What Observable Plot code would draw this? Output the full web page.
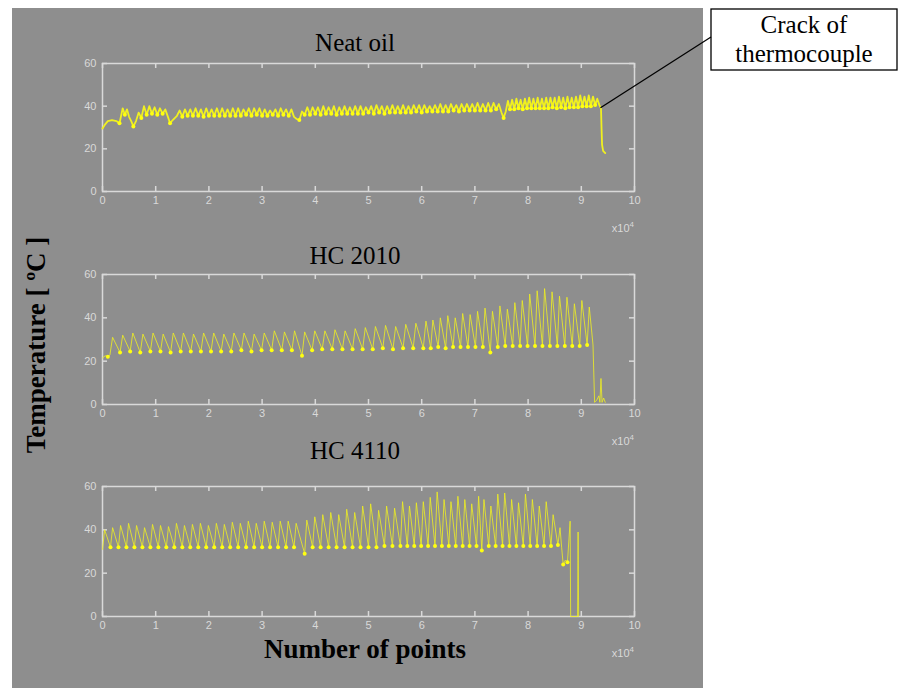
<!DOCTYPE html>
<html>
<head>
<meta charset="utf-8">
<script src="https://cdn.jsdelivr.net/npm/d3@7"></script>
<script src="https://cdn.jsdelivr.net/npm/@observablehq/plot@0.6"></script>
<style>
  html, body { margin: 0; padding: 0; background: #ffffff; }
  #root { position: relative; width: 898px; height: 688px; overflow: hidden; }
  #panel { position: absolute; left: 12px; top: 8px; width: 691px; height: 680px; background: #8e8e8e; }
  .plotbox { position: absolute; left: 60px; }
  #overlay { position: absolute; left: 0; top: 0; }
</style>
</head>
<body>
<div id="root">
  <div id="panel"></div>
  <div id="p1" class="plotbox" style="top:48px"></div>
  <div id="p2" class="plotbox" style="top:259px"></div>
  <div id="p3" class="plotbox" style="top:471px"></div>
  <svg id="overlay" width="898" height="688"></svg>
</div>
<script>
// ---- data (x in units of 10^4 points, temperature in °C) ----
const xTicks = [0, 1, 2, 3, 4, 5, 6, 7, 8, 9, 10];
const yTicks = [0, 20, 40, 60];
const titles = ["Neat oil", "HC 2010", "HC 4110"];
const xLabel = "Number of points";
const yLabel = "Temperature [ ºC ]";
const scaleNote = ["x10", "4"];
const annotation = ["Crack of", "thermocouple"];

const neatOil = [
  [0,29.5],[0.05,31.5],[0.10,33],[0.18,33.5],[0.26,33],[0.32,32],[0.38,39],[0.42,36],[0.46,38.5],[0.50,35],
  [0.54,33],[0.58,30.5],[0.63,33],[0.68,37],[0.73,34.5],[0.78,40],[0.83,36],[0.88,40],[0.93,36.5],[0.98,39.5],
  [1.03,36],[1.08,39],[1.13,36.5],[1.18,38.5],[1.23,35],[1.27,32],[1.32,33.5],
  [1.40,35.5],[1.45,38],[1.50,35],[1.55,38.5],[1.60,35.5],[1.65,38.5],[1.70,35.5],[1.75,39],[1.80,35.5],[1.85,38.5],
  [1.90,35],[1.95,39],[2.00,35.5],[2.05,38.5],[2.10,35.5],[2.15,39],[2.20,35.5],[2.25,39],[2.30,35.5],[2.35,38.5],
  [2.40,35.5],[2.45,39],[2.50,35.5],[2.55,39],[2.60,35.5],[2.65,38.5],[2.70,36],[2.75,39],[2.80,35.5],[2.85,39],
  [2.90,36],[2.95,39],[3.00,35.5],[3.05,38.5],[3.10,35.5],[3.15,38],[3.20,36],[3.25,38.5],[3.30,35.5],[3.35,39],
  [3.40,36],[3.45,38.5],[3.50,35.5],[3.55,38.5],[3.60,35],[3.65,34],[3.70,33.5],[3.75,37.5],
  [3.80,36],[3.85,39.5],[3.90,36],[3.95,39.5],[4.00,36.5],[4.05,39.5],[4.10,36],[4.15,40],[4.20,36.5],[4.25,39.5],
  [4.30,36.5],[4.35,40],[4.40,36],[4.45,39.5],[4.50,36.5],[4.55,40],[4.60,36.5],[4.65,39.5],[4.70,36.5],[4.75,40],
  [4.80,36.5],[4.85,40],[4.90,36.5],[4.95,39.5],[5.00,37],[5.05,40],[5.10,36.5],[5.15,40.5],[5.20,37],[5.25,40],
  [5.30,36.5],[5.35,40],[5.40,37],[5.45,40.5],[5.50,37],[5.55,40],[5.60,37],[5.65,40.5],[5.70,37],[5.75,40],
  [5.80,37],[5.85,40.5],[5.90,37.5],[5.95,40.5],[6.00,37],[6.05,40.5],[6.10,37.5],[6.15,40],[6.20,37.5],[6.25,40.5],
  [6.30,37.5],[6.35,41],[6.40,37.5],[6.45,40.5],[6.50,37.5],[6.55,41],[6.60,38],[6.65,40.5],[6.70,37.5],[6.75,41],
  [6.80,38],[6.85,41],[6.90,38],[6.95,41],[7.00,38],[7.05,41.5],[7.10,38],[7.15,41],[7.20,38],[7.25,41.5],
  [7.30,38],[7.35,41.5],[7.40,38.5],[7.45,41],[7.50,37],[7.54,34.5],[7.58,37.5],
  [7.62,42.5],[7.66,38.5],[7.70,43],[7.74,38.5],[7.78,43.5],[7.82,39],[7.86,43],[7.90,38.5],[7.94,43.5],[7.98,39],
  [8.02,44],[8.06,39],[8.10,43.5],[8.14,39],[8.18,44],[8.22,39],[8.26,43.5],[8.30,39],[8.34,44],[8.38,39],
  [8.42,44],[8.46,39.5],[8.50,44],[8.54,39],[8.58,44.5],[8.62,39.5],[8.66,44],[8.70,39],[8.74,44.5],[8.78,39.5],
  [8.82,44],[8.86,39.5],[8.90,44.5],[8.94,39.5],[8.98,45],[9.02,40],[9.06,44.5],[9.10,40],[9.14,45],[9.18,40],
  [9.22,44.5],[9.26,40.5],[9.30,43.5],[9.34,40.5],[9.37,39],[9.38,30],[9.39,22],[9.41,19],[9.45,18]
];

const hc2010 = [
  [0,21.5],[0.05,22.5],[0.10,22],
  [0.14,23],[0.19,31],[0.33,24],[0.38,32],[0.52,24.5],[0.57,33],[0.71,24],[0.76,32.5],
  [0.90,24.5],[0.95,33],[1.09,24.5],[1.14,32.5],[1.28,24],[1.33,33],[1.47,24.5],[1.52,33],
  [1.66,24.5],[1.71,32.5],[1.85,24.5],[1.90,33],[2.04,24.5],[2.09,33],[2.23,24.5],[2.28,32.5],
  [2.42,24.5],[2.47,33],[2.61,25],[2.66,33],[2.80,24.5],[2.85,32.5],[2.99,25],[3.04,33],
  [3.18,25],[3.23,34],[3.37,25],[3.42,33.5],[3.56,25],[3.61,34],[3.75,22.5],[3.80,33.5],
  [3.94,25],[3.99,34],[4.13,25.5],[4.18,34],[4.32,25.5],[4.37,34.5],[4.51,25.5],[4.56,34],
  [4.70,25.5],[4.75,35],[4.89,25.5],[4.94,35.5],[5.08,25.5],[5.13,36],[5.27,26],[5.32,36.5],
  [5.46,25.5],[5.51,36],[5.65,26],[5.70,37],[5.84,26],[5.89,37.5],[6.03,26],[6.08,38.5],
  [6.17,26],[6.21,39],[6.31,26.5],[6.35,40],[6.45,26],[6.49,41],[6.59,26.5],[6.63,40],
  [6.73,26.5],[6.77,42],[6.87,26.5],[6.91,41.5],[7.01,26.5],[7.05,43],[7.15,26.5],[7.19,44.5],
  [7.29,24],[7.33,43],[7.43,26.5],[7.47,45.5],[7.57,27],[7.61,44],[7.71,27],[7.75,47],
  [7.85,27],[7.89,48],[7.99,27],[8.03,51],[8.13,27],[8.17,52.5],[8.27,27],[8.31,53.5],
  [8.41,27],[8.45,52],[8.55,27],[8.59,50],[8.69,27],[8.73,49.5],[8.83,27],[8.87,46.5],
  [8.97,27],[9.01,48],[9.11,27.5],[9.15,45],
  [9.22,27.5],[9.25,1],[9.29,2],[9.33,4],[9.35,1],[9.37,12],[9.39,1],[9.42,3],[9.45,1]
];

const hc4110 = [
  [0.00,31],[0.04,40],[0.15,32],[0.19,41],[0.30,32],[0.34,42],[0.45,32],[0.49,43],
  [0.60,32],[0.64,42],[0.75,32],[0.79,41],[0.90,32],[0.94,42.5],[1.05,32],[1.09,42],
  [1.20,32],[1.24,41.5],[1.35,32],[1.39,43],[1.50,32],[1.54,42],[1.65,32],[1.69,42.5],
  [1.80,32],[1.84,43],[1.95,32],[1.99,42],[2.10,32],[2.14,43],[2.25,32],[2.29,42.5],
  [2.40,32],[2.44,43.5],[2.55,32],[2.59,43],[2.70,32],[2.74,44],[2.85,32],[2.89,43],
  [3.00,32],[3.04,44],[3.15,32],[3.19,43.5],[3.30,32],[3.34,44],[3.45,32],[3.49,44],
  [3.60,32],[3.64,43],[3.80,29],[3.84,44.5],[3.95,32],[3.99,46],[4.10,32],[4.14,47],
  [4.25,32],[4.29,48],[4.40,32],[4.44,47],[4.55,32],[4.59,49.5],[4.70,32],[4.74,48],
  [4.85,32],[4.89,51],[5.00,32],[5.04,52],[5.15,32],[5.19,49],[5.30,32.5],[5.34,51],
  [5.45,32.5],[5.49,50],[5.60,32.5],[5.64,53],[5.73,32.5],[5.77,51],[5.86,32.5],[5.90,52.5],
  [5.99,32.5],[6.03,53],[6.12,32.5],[6.16,55],[6.25,32.5],[6.29,57.5],[6.38,32.5],[6.42,54],
  [6.51,32.5],[6.55,53],[6.64,32.5],[6.68,55.5],[6.77,32.5],[6.81,54],[6.90,32.5],[6.94,52],
  [7.03,32.5],[7.07,55.5],[7.13,30.5],[7.17,54],[7.26,32.5],[7.30,51],[7.39,32.5],[7.43,56.5],
  [7.52,32.5],[7.56,57],[7.65,32.5],[7.69,54],[7.78,32.5],[7.82,52.5],[7.91,32.5],[7.95,56.5],
  [8.04,32.5],[8.08,54],[8.17,32.5],[8.21,51],[8.30,32.5],[8.34,53],[8.43,32.5],[8.47,47],
  [8.56,33],[8.60,41],[8.63,32],[8.66,24],[8.70,26],[8.74,25],[8.79,44],[8.80,0],[8.93,0],[8.94,39],[8.95,0]
];

// ---- drawing ----
const AXIS = "#d9d9d9";
const LINE = "#f0f020";
const W = 640, ML = 42, MR = 66, MT = 15, MB = 50;
const TICK = 5;

function panel(series, innerH, lineWidth, lineOpacity) {
  const data = series.map(([x, t]) => ({x, t}));
  const troughs = data.filter((d, i) =>
    i > 0 && i < data.length - 1 && d.t > 10 && d.t <= data[i - 1].t && d.t <= data[i + 1].t);
  const innerW = W - ML - MR;
  return Plot.plot({
    width: W,
    height: MT + innerH + MB,
    marginLeft: ML, marginRight: MR, marginTop: MT, marginBottom: MB,
    style: {background: "none", color: AXIS, fontFamily: "'Liberation Sans', Arial, sans-serif", fontSize: "11px"},
    x: {domain: [0, 10]},
    y: {domain: [0, 60]},
    marks: [
      Plot.frame({stroke: AXIS, strokeWidth: 1.5}),
      // inward tick marks on all four sides (MATLAB style)
      Plot.tickX(xTicks, {x: d => d, stroke: AXIS, strokeWidth: 1.5, insetTop: innerH - TICK}),
      Plot.tickX(xTicks, {x: d => d, stroke: AXIS, strokeWidth: 1.5, insetBottom: innerH - TICK}),
      Plot.tickY(yTicks, {y: d => d, stroke: AXIS, strokeWidth: 1.5, insetRight: innerW - TICK}),
      Plot.tickY(yTicks, {y: d => d, stroke: AXIS, strokeWidth: 1.5, insetLeft: innerW - TICK}),
      Plot.axisX({anchor: "bottom", ticks: xTicks, tickSize: 0, tickPadding: 5, label: null}),
      Plot.axisY({anchor: "left", ticks: yTicks, tickSize: 0, tickPadding: 6, label: null}),
      Plot.line(data, {x: "x", y: "t", stroke: LINE, strokeWidth: lineWidth, strokeOpacity: lineOpacity}),
      Plot.dot(troughs, {x: "x", y: "t", r: 2, fill: "#ffff10", stroke: "none"})
    ]
  });
}

const plots = [
  panel(neatOil, 128, 1.8, 1),
  panel(hc2010, 130, 1, 0.8),
  panel(hc4110, 130, 1, 0.8)
];
["p1", "p2", "p3"].forEach((id, i) => document.getElementById(id).appendChild(plots[i]));

// ---- overlay text & annotation ----
const ns = "http://www.w3.org/2000/svg";
const ov = document.getElementById("overlay");
function txt(s, x, y, size, weight, extra) {
  const t = document.createElementNS(ns, "text");
  t.setAttribute("x", x); t.setAttribute("y", y);
  t.setAttribute("text-anchor", "middle");
  t.setAttribute("font-family", "'Liberation Serif', 'Times New Roman', serif");
  t.setAttribute("font-size", size);
  t.setAttribute("font-weight", weight || "normal");
  t.setAttribute("fill", "#000");
  if (extra) t.setAttribute("transform", extra);
  t.textContent = s;
  ov.appendChild(t);
  return t;
}
txt(titles[0], 355, 51, 25);
txt(titles[1], 355, 264, 25);
txt(titles[2], 355, 459, 25);
txt(xLabel, 365, 658, 27, "bold");
txt(yLabel, 0, 0, 27, "bold", "translate(45,345) rotate(-90)");

// "x10^4" multiplier under each x axis, right-aligned to the axis end
[48, 259, 471].forEach((top, i) => {
  const innerH = i === 0 ? 128 : 130;
  const t = document.createElementNS(ns, "text");
  t.setAttribute("x", 60 + W - MR);
  t.setAttribute("y", top + MT + innerH + 41);
  t.setAttribute("text-anchor", "end");
  t.setAttribute("font-family", "'Liberation Sans', Arial, sans-serif");
  t.setAttribute("font-size", 11);
  t.setAttribute("fill", AXIS);
  const a = document.createElementNS(ns, "tspan"); a.textContent = scaleNote[0];
  const b = document.createElementNS(ns, "tspan"); b.textContent = scaleNote[1];
  b.setAttribute("dy", -5); b.setAttribute("font-size", 8);
  t.appendChild(a); t.appendChild(b);
  ov.appendChild(t);
});

const rect = document.createElementNS(ns, "rect");
rect.setAttribute("x", 711); rect.setAttribute("y", 9);
rect.setAttribute("width", 186); rect.setAttribute("height", 61);
rect.setAttribute("fill", "#fff"); rect.setAttribute("stroke", "#000"); rect.setAttribute("stroke-width", 1.3);
ov.appendChild(rect);
txt(annotation[0], 804, 33, 25);
txt(annotation[1], 804, 62, 25);

// leader line to the last point before the thermocouple drop
const p = neatOil.filter(d => d[1] > 35).pop();
const sx = plots[0].scale("x"), sy = plots[0].scale("y");
const line = document.createElementNS(ns, "line");
line.setAttribute("x1", 711); line.setAttribute("y1", 37);
line.setAttribute("x2", 60 + sx.apply(p[0])); line.setAttribute("y2", 48 + sy.apply(p[1]));
line.setAttribute("stroke", "#000"); line.setAttribute("stroke-width", 1.3);
ov.appendChild(line);
</script>
</body>
</html>
